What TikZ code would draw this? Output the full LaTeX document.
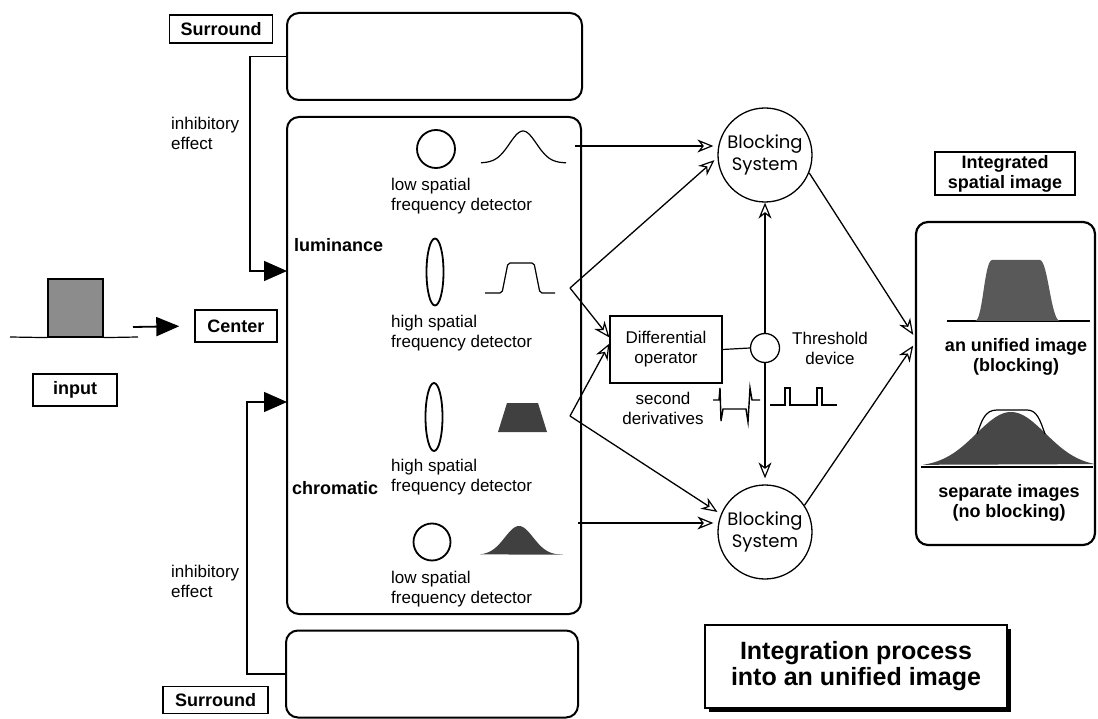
\documentclass[tikz,border=0pt]{standalone}
\usepackage{fontspec}
\setmainfont{Liberation Sans}
\newfontfamily\blkfont{Poppins}
\usetikzlibrary{arrows.meta,shapes.geometric,shadows}
\begin{document}
\begin{tikzpicture}[x=1pt,y=-1pt,
  lbl/.style={draw, line width=1.4pt, font=\fontsize{18}{20}\selectfont\bfseries, inner sep=0pt},
  rbox/.style={draw, line width=2pt, rounded corners=12pt, inner sep=0pt},
  det/.style={font=\fontsize{17}{20}\selectfont, align=left, anchor=west, inner sep=0pt},
  txt/.style={font=\fontsize{17}{20}\selectfont, align=center, inner sep=0pt},
  btxt/.style={font=\fontsize{18}{20}\selectfont\bfseries, align=center, inner sep=0pt},
  oarr/.style={-{Stealth[open,length=16pt,width=13pt,inset=5pt,line width=1.2pt]}, line width=1.3pt},
  farr/.style={-{Triangle[length=23pt,width=20pt]}, line width=1.4pt},
  sig/.style={line width=1.2pt},
  blk/.style={draw, circle, line width=1.3pt, minimum size=94pt, inner sep=0pt, align=center, font=\blkfont\fontsize{18}{22}\selectfont},
  detshape/.style={draw, line width=1.8pt, inner sep=0pt}
]
\useasboundingbox (0,0) rectangle (1098,719);

% surround and main boxes
\node[rbox, minimum width=295pt, minimum height=87pt] (topS) at (434.5,56.5) {};
\node[rbox, minimum width=294pt, minimum height=497pt] (main) at (434,365.5) {};
\node[rbox, minimum width=292pt, minimum height=87pt] (botS) at (432,674) {};
\node[lbl, minimum width=103pt, minimum height=28pt] (surT) at (221,29) {Surround};
\node[lbl, minimum width=105pt, minimum height=27pt] (surB) at (215.5,700) {Surround};

% inhibitory connections
\coordinate (inT) at (287,271);
\coordinate (inB) at (287,402);
\draw[farr] (topS.west) -- ++(-36,0) |- (inT);
\draw[farr] (botS.west) -- ++(-38,0) |- (inB);
\node[det] (inhT) at (171,133) {inhibitory\\effect};
\node[det] (inhB) at (171,581) {inhibitory\\effect};

% input
\node[draw, line width=1.2pt, fill=black!45, minimum width=55pt, minimum height=58pt, inner sep=0pt] (inRect) at (75.5,308) {};
\draw[sig] (10,337) -- (inRect.south west);
\draw[sig] (inRect.south east) -- (138,337);
\node[lbl, minimum width=84pt, minimum height=32pt] (input) at (75,390) {input};
\node[lbl, minimum width=82pt, minimum height=32pt] (center) at (236,326) {Center};
\coordinate (arrS) at (133,327);
\draw[-{Triangle[length=23pt,width=19pt]}, line width=1.8pt, shorten >=15pt] (arrS) -- (center.west);

% main contents
\node[font=\fontsize{18}{20}\selectfont\bfseries, anchor=west, inner sep=0pt] (lum) at (294,245) {luminance};
\node[font=\fontsize{18}{20}\selectfont\bfseries, anchor=west, inner sep=0pt] (chr) at (292,488) {chromatic};

\node[detshape, circle, minimum size=38pt] (c1) at (436,149) {};
\node[det] (d1) at (391,196) {low spatial\\frequency detector};
\node[detshape, ellipse, minimum width=17pt, minimum height=67pt] (e1) at (435,272) {};
\node[det] (d2) at (391,333) {high spatial\\frequency detector};
\node[detshape, ellipse, minimum width=17pt, minimum height=68pt] (e2) at (434,417) {};
\node[det] (d3) at (391,477) {high spatial\\frequency detector};
\node[detshape, circle, minimum size=37pt] (c2) at (432,542) {};
\node[det] (d4) at (391,589) {low spatial\\frequency detector};

% signals
\draw[sig] plot[domain=481:566, samples=50, smooth] (\x,{163-32*exp(-((\x-523)/19)^2)});
\draw[sig, rounded corners=2pt] (485,293) -- (502,293) -- (508,263) -- (534,263) -- (540,293) -- (555,293);
\fill[black!75] (498,432) -- (507,403) -- (538,403) -- (547,432) -- cycle;
\fill[black!75] plot[domain=480:563, samples=50, smooth] (\x,{555-29*exp(-((\x-519)/20)^2)}) -- cycle;

% central part
\node[blk] (B1) at (765,155) {Blocking\\System};
\node[blk] (B2) at (765,532) {Blocking\\System};
\node[draw, line width=1.2pt, minimum width=112pt, minimum height=67pt, txt] (D) at (666,349.5) {Differential\\operator};
\node[draw, circle, line width=1.3pt, minimum size=29pt, inner sep=0pt] (T) at (765,348) {};
\node[txt] (Tl) at (830,348) {Threshold\\device};
\node[txt] (sd) at (663,408) {second\\derivatives};

\draw[sig, line width=1.4pt] (713,400) -- (719,400) -- (720,388) -- (721,421) -- (723,409) -- (746,409) -- (748,422) -- (750,388) -- (752,400) -- (760,400);
\draw[sig] (770,405) -- (785,405) -- (785,388) -- (790,388) -- (790,405) -- (817,405) -- (817,388) -- (822,388) -- (822,405) -- (837,405);

\coordinate (g1r) at (575,146);
\coordinate (t1r) at (570,288);
\coordinate (t2r) at (570,416);
\coordinate (g2r) at (578,523);
\draw[oarr, shorten >=4pt] (g1r) -- (g1r -| B1.west);
\draw[oarr, shorten >=4pt] (t1r) -- (B1.183);
\draw[oarr] (t1r) -- (D.168);
\draw[oarr] (t2r) -- (D.174);
\draw[oarr, shorten >=4pt] (t2r) -- (B2.158);
\draw[oarr, shorten >=4pt] (g2r) -- (g2r -| B2.west);
\draw[line width=1.2pt] (D.east) -- (T.west);
\draw[oarr] (T.north) -- (B1.south);
\draw[oarr, shorten >=6pt] (T.south) -- (B2.north);

% right box
\node[rbox, line width=2.2pt, minimum width=179pt, minimum height=323pt] (R) at (1005.5,383.5) {};
\draw[oarr, shorten >=3pt] (B1.-22) -- (R.153);
\draw[oarr, shorten >=3pt] (B2.34) -- (R.156);
\node[draw, line width=1.1pt, minimum width=140pt, minimum height=43pt, btxt] (IS) at (1005,173.5) {Integrated\\spatial image};

\draw[sig] (947,321) -- (1090,321);
\fill[black!65] (975,321) .. controls (983,321) and (984,261) .. (992,260) -- (1040,260) .. controls (1048,261) and (1051,321) .. (1060,321) -- cycle;
\node[btxt] (uni) at (1016,357) {an unified image\\(blocking)};

\fill[black!72] plot[domain=923:1095, samples=70, smooth] (\x,{467-55*exp(-((\x-1011)/49)^2)}) -- cycle;
\draw[sig] (977,434) .. controls (982,420) and (985,410) .. (997,410) -- (1027,410) .. controls (1037,410) and (1040,420) .. (1045,434);
\draw[sig] (921,467) -- (1093,467);
\node[btxt] (sep) at (1009,503) {separate images\\(no blocking)};

% title
\node[draw, line width=1.2pt, fill=white, minimum width=302pt, minimum height=83pt, font=\fontsize{25}{26}\selectfont\bfseries, align=center, drop shadow={shadow xshift=4pt, shadow yshift=-4pt, fill=black, opacity=1}] (title) at (856,666.5) {Integration process\\into an unified image};
\end{tikzpicture}
\end{document}
